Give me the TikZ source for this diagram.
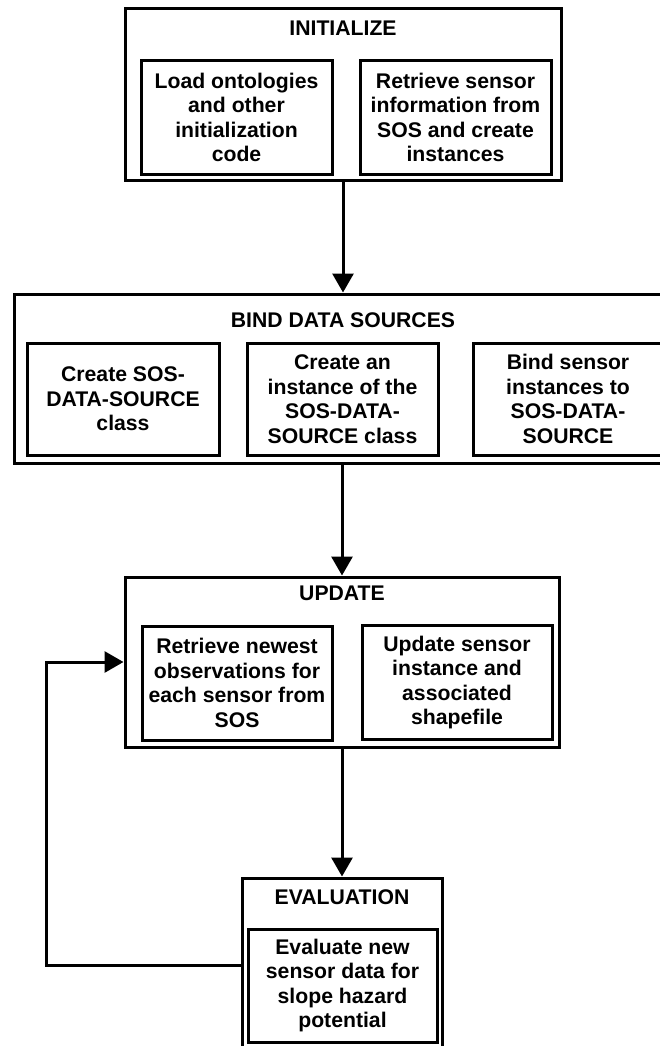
\documentclass[tikz,border=0pt]{standalone}
\usepackage{fontspec}
\setmainfont{Liberation Sans}
\usetikzlibrary{arrows.meta}
\tikzset{
  outerbox/.style={draw, line width=3pt, inner sep=0pt},
  innerbox/.style={draw, line width=3pt, align=center, inner sep=0pt,
    font=\bfseries\fontsize{21.2}{24.6}\selectfont},
  titletext/.style={font=\bfseries\fontsize{21.2}{24.6}\selectfont, inner sep=0pt},
  flow/.style={line width=3pt, -{Triangle[width=21pt,length=19pt]}},
  plainline/.style={line width=3pt}
}
\begin{document}
\begin{tikzpicture}[x=1pt,y=-1pt]
\useasboundingbox (0,0) rectangle (660,1046);
% INITIALIZE
\node[outerbox, minimum width=436pt, minimum height=171pt] (init) at (343,94.5) {};
\node[titletext] (initT) at (343,28) {INITIALIZE};
\node[innerbox, minimum width=191pt, minimum height=113pt] (i1) at (236.5,117.5) {Load ontologies\\and other\\initialization\\code};
\node[innerbox, minimum width=191pt, minimum height=113pt] (i2) at (455.5,117.5) {Retrieve sensor\\information from\\SOS and create\\instances};
% BIND DATA SOURCES
\node[outerbox, minimum width=658pt, minimum height=169pt] (bind) at (343,378.5) {};
\node[titletext] (bindT) at (343,320) {BIND DATA SOURCES};
\node[innerbox, minimum width=192pt, minimum height=112pt] (b1) at (123,399) {Create SOS-\\DATA-SOURCE\\class};
\node[innerbox, minimum width=191pt, minimum height=112pt] (b2) at (342.5,399) {Create an\\instance of the\\SOS-DATA-\\SOURCE class};
\node[innerbox, minimum width=190pt, minimum height=112pt] (b3) at (568,399) {Bind sensor\\instances to\\SOS-DATA-\\SOURCE};
% UPDATE
\node[outerbox, minimum width=434pt, minimum height=170pt] (upd) at (342,662) {};
\node[titletext] (updT) at (342,593) {UPDATE};
\node[innerbox, minimum width=190pt, minimum height=114pt] (u1) at (237,683) {Retrieve newest\\observations for\\each sensor from\\SOS};
\node[innerbox, minimum width=190pt, minimum height=114pt] (u2) at (457,682.5) {Update sensor\\instance and\\associated\\shapefile};
% EVALUATION
\node[outerbox, minimum width=200pt, minimum height=180pt] (eval) at (342,968) {};
\node[titletext] (evalT) at (342,897) {EVALUATION};
\node[innerbox, minimum width=189pt, minimum height=113pt] (e1) at (342.5,985.5) {Evaluate new\\sensor data for\\slope hazard\\potential};
% connectors
\draw[flow] (init.south) -- (bind.north -| init.south);
\draw[flow] (bind.south -| upd.north) -- (upd.north);
\draw[flow] (upd.south) -- (eval.north);
\coordinate (fbA) at (46,965);
\coordinate (fbB) at (46,662);
\draw[flow] (eval.west |- fbA) -- (fbA) -- (fbB) -- (upd.west);
\end{tikzpicture}
\end{document}
